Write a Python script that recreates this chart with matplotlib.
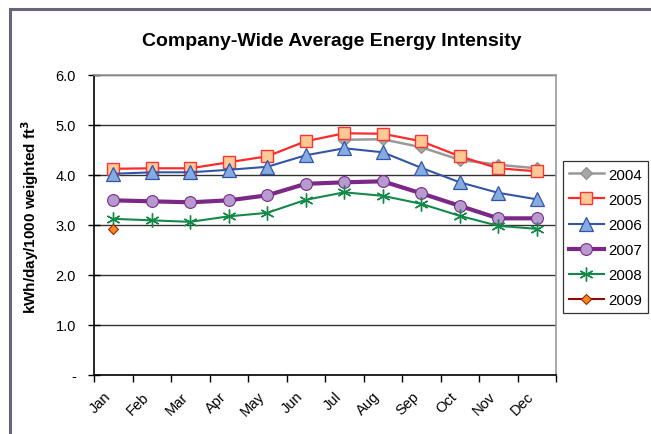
import numpy as np
import matplotlib
matplotlib.use("Agg")
import matplotlib.pyplot as plt
from matplotlib.patches import Rectangle

months = ["Jan", "Feb", "Mar", "Apr", "May", "Jun", "Jul", "Aug", "Sep", "Oct", "Nov", "Dec"]
nan = np.nan
y2004 = [nan, nan, nan, nan, nan, nan, 4.70, 4.71, 4.55, 4.30, 4.20, 4.13]
y2005 = [4.12, 4.13, 4.13, 4.25, 4.37, 4.67, 4.83, 4.82, 4.67, 4.37, 4.13, 4.07]
y2006 = [4.02, 4.05, 4.05, 4.10, 4.16, 4.39, 4.53, 4.45, 4.14, 3.85, 3.64, 3.51]
y2007 = [3.49, 3.47, 3.45, 3.49, 3.59, 3.82, 3.85, 3.87, 3.63, 3.38, 3.13, 3.13]
y2008 = [3.12, 3.09, 3.06, 3.17, 3.24, 3.50, 3.65, 3.58, 3.42, 3.18, 2.98, 2.92]
y2009 = [2.91] + [nan] * 11
yticks = [0, 1, 2, 3, 4, 5, 6]

plt.rcParams['font.family'] = ['Liberation Sans', 'DejaVu Sans']

fig = plt.figure(figsize=(6.51, 4.35), dpi=100)
fig.patch.set_facecolor('white')
ax = fig.add_axes([94/651, 1 - 376/435, (556 - 94)/651, (376 - 75.7)/435])

x = np.arange(len(months))
series = [
    ("2004", y2004, dict(color='#999999', lw=1.8, marker='D', ms=6.5, mfc='#a6a6a6', mec='#8c8c8c', mew=0.8)),
    ("2005", y2005, dict(color='#ff2a2a', lw=1.6, marker='s', ms=8.5, mfc='#ffc995', mec='#ff3333', mew=1.0)),
    ("2006", y2006, dict(color='#3355a8', lw=1.5, marker='^', ms=9.5, mfc='#86abe0', mec='#3355a8', mew=0.9)),
    ("2007", y2007, dict(color='#7a2a86', lw=3.0, marker='o', ms=8.5, mfc='#b79bd0', mec='#7a2a86', mew=0.8)),
    ("2008", y2008, dict(color='#15894a', lw=1.5, marker=(6, 2, 0), ms=10, mec='#15894a', mew=1.0)),
    ("2009", y2009, dict(color='#8b0a0a', lw=1.5, marker='D', ms=5.5, mfc='#f58a1f', mec='#a02010', mew=0.8)),
]
for name, ys, st in series:
    ax.plot(x, ys, label=name, zorder=3, **st)

ax.set_xlim(-0.5, 11.5)
ax.set_ylim(0, 6)
ax.set_yticks(yticks)
ax.set_yticklabels(['-' if v == 0 else f"{v:.1f}" for v in yticks], fontsize=10.5)
ax.grid(axis='y', color='#333333', lw=1.0, zorder=1)
ax.set_axisbelow(True)

ax.set_xticks(np.arange(-0.5, 12, 1))
ax.set_xticklabels([])
ax.set_xticks(x, minor=True)
ax.set_xticklabels(months, minor=True, rotation=45, ha='right', va='top', fontsize=10.5)
ax.tick_params(axis='x', which='minor', length=0, pad=10)
ax.tick_params(axis='x', which='major', length=5, direction='out', width=1)
ax.tick_params(axis='y', direction='inout', length=8, width=1, pad=9)

for s in ['top', 'right']:
    ax.spines[s].set_color('#999999')
    ax.spines[s].set_linewidth(1.2)
for s in ['left', 'bottom']:
    ax.spines[s].set_color('black')
    ax.spines[s].set_linewidth(1.2)

fig.text(332/651, 1 - 42/435, "Company-Wide Average Energy Intensity",
         ha='center', va='center', fontsize=14, fontweight='bold')
fig.text(30/651, 1 - 217/435, r"kWh/day/1000 weighted ft$^\mathbf{3}$",
         rotation=90, ha='center', va='center', fontsize=11, fontweight='bold')

leg = ax.legend(loc='upper left', bbox_to_anchor=(562.7/651, 1 - 162.3/435),
                bbox_transform=fig.transFigure, borderaxespad=0, fontsize=10.8,
                fancybox=False, frameon=True, edgecolor='black', handlelength=2.3,
                handletextpad=0.3, labelspacing=0.74, borderpad=0.42)
leg.get_frame().set_linewidth(0.9)

fig.add_artist(Rectangle((10/651, -0.1), 1.2, 1.1 - 10/435, transform=fig.transFigure,
                         fill=False, edgecolor='#6b6479', lw=2.2, clip_on=False))

fig.savefig("out.png", dpi=100, facecolor='white')
